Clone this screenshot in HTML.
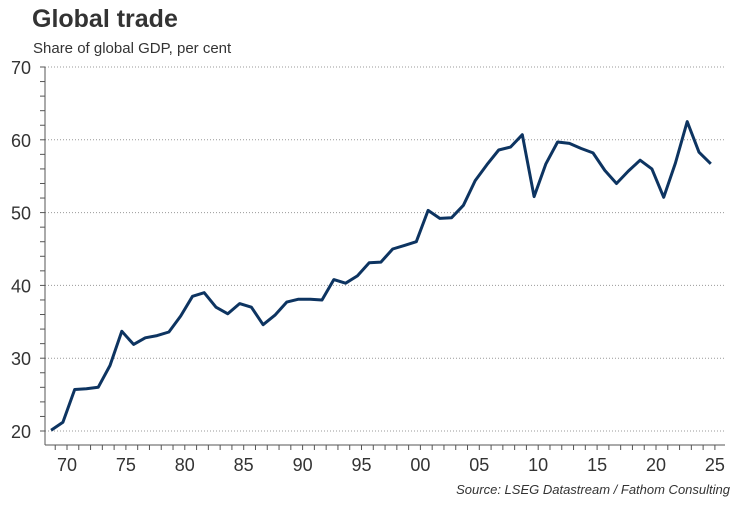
<!DOCTYPE html>
<html><head><meta charset="utf-8"><style>
body{margin:0;background:#fff;font-family:"Liberation Sans",sans-serif;}
svg text{font-family:"Liberation Sans",sans-serif;}
</style></head><body>
<svg id="c" width="750" height="500">
<text x="32" y="27" font-size="25" font-weight="bold" fill="#333">Global trade</text>
<text x="33" y="53" font-size="15" fill="#333">Share of global GDP, per cent</text>
<text x="730" y="494" font-size="13" font-style="italic" fill="#333" text-anchor="end">Source: LSEG Datastream / Fathom Consulting</text>
<g id="g"></g>
</svg>
<script>
const years=[1969,1970,1971,1972,1973,1974,1975,1976,1977,1978,1979,1980,1981,1982,1983,1984,1985,1986,1987,1988,1989,1990,1991,1992,1993,1994,1995,1996,1997,1998,1999,2000,2001,2002,2003,2004,2005,2006,2007,2008,2009,2010,2011,2012,2013,2014,2015,2016,2017,2018,2019,2020,2021,2022,2023,2024,2025];
const values=[20.1,21.2,25.7,25.8,26.0,29.0,33.7,31.9,32.8,33.1,33.6,35.8,38.5,39.0,37.0,36.1,37.5,37.0,34.6,35.9,37.7,38.1,38.1,38.0,40.8,40.3,41.3,43.1,43.2,45.0,45.5,46.0,50.3,49.2,49.3,51.0,54.4,56.6,58.6,59.0,60.7,52.2,56.7,59.7,59.5,58.8,58.2,55.8,54.0,55.7,57.2,56.0,52.1,56.8,62.5,58.3,56.7];
const yTicks=[20,30,40,50,60,70];
const xTickLabels=["70","75","80","85","90","95","00","05","10","15","20","25"];
const xTickYears=[1970,1975,1980,1985,1990,1995,2000,2005,2010,2015,2020,2025];
const NS="http://www.w3.org/2000/svg";
const g=document.getElementById('g');
const X=yr=>67+(yr-1970)*11.78;
const Y=v=>431-(v-20)*7.28;
function mk(t,a){const e=document.createElementNS(NS,t);for(const k in a)e.setAttribute(k,a[k]);g.appendChild(e);return e;}
yTicks.forEach(v=>{
 const l=mk('line',{x1:45,x2:725,y1:Y(v),y2:Y(v),stroke:'#999','stroke-dasharray':'1,2','stroke-width':1});
 
 
 const t=mk('text',{x:31,y:Y(v)+7,'font-size':18,fill:'#333','text-anchor':'end'});
 t.textContent=v;
 
 
});
for(let v=20;v<=70;v+=2){const l=mk('line',{x1:40,x2:45,y1:Y(v),y2:Y(v),stroke:'#555'});}
const ya=mk('line',{x1:45,x2:45,y1:Y(70),y2:445,stroke:'#555'});


const xa=mk('line',{x1:45,x2:725,y1:445,y2:445,stroke:'#555'});


for(let yr=1968;yr<=2025;yr++){const x=X(yr);if(x<44||x>725)continue;const l=mk('line',{x1:x,x2:x,y1:445,y2:450,stroke:'#555'});}
xTickYears.forEach((yr,i)=>{
 const t=mk('text',{x:X(yr),y:471,'font-size':18,fill:'#333','text-anchor':'middle'});
 t.textContent=xTickLabels[i];
 
 
});
const pts=years.map((yr,i)=>X(yr-0.35).toFixed(1)+','+Y(values[i]).toFixed(1)).join(' ');
const p=mk('polyline',{points:pts,fill:'none',stroke:'#0d3461','stroke-width':3,'stroke-linejoin':'round'});


</script>
</body></html>
